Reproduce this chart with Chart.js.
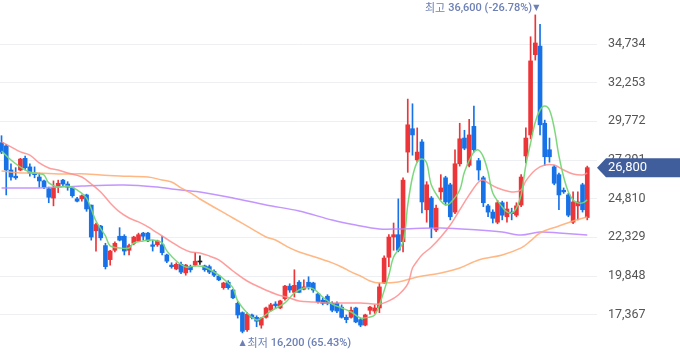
<!DOCTYPE html>
<html>
<head>
<meta charset="utf-8">
<script src="https://cdn.jsdelivr.net/npm/chart.js@4.4.0/dist/chart.umd.min.js"></script>
<style>
  html, body { margin: 0; padding: 0; background: #ffffff; }
  #wrap { width: 680px; height: 358px; position: relative; }
</style>
</head>
<body>
<div id="wrap"><canvas id="canvasChart"></canvas></div>
<script>
// daily candles, oldest first
var opens = [28400, 28200, 26650, 26250, 26650, 27400, 26850, 26450, 26200, 25950,
  25450, 24850, 25600, 26000, 25750, 25500, 24800, 24800, 25050, 24400,
  22750, 23050, 21800, 20900, 21500, 22400, 22400, 21500, 21950, 22100,
  22600, 22600, 21850, 21850, 21850, 21200, 20550, 20300, 20600, 20050,
  20450, 20550, 20750, 20500, 20450, 20150, 19850, 19100, 19450, 18950,
  18100, 17500, 16400, 17350, 17200, 16700, 17200, 17650, 18050, 17800,
  18400, 19200, 18800, 19450, 19000, 19450, 19400, 18700, 18300, 18550,
  18100, 18100, 17850, 17200, 17200, 17800, 17050, 16700, 17650, 17600,
  17800, 19400, 21050, 22350, 22500, 22050, 27800, 29300, 27300, 28450,
  24100, 24850, 22800, 25250, 26150, 25700, 23950, 27050, 28700, 26950,
  29450, 27250, 26150, 24350, 23950, 23300, 24550, 23650, 23950, 23750,
  24400, 27550, 28900, 34050, 34600, 29650, 27950, 26850, 26350, 25350,
  25050, 23300, 24350, 25700, 23600];
var highs = [28850, 28300, 27050, 26800, 27400, 27550, 27050, 26850, 26450, 26000,
  25550, 25950, 26000, 26050, 25900, 25550, 24900, 25050, 25100, 24400,
  23250, 23100, 21950, 21500, 22050, 22950, 22500, 21900, 22400, 22600,
  22650, 22650, 22150, 22150, 22400, 21250, 20700, 20700, 20750, 20600,
  20550, 21350, 21150, 20550, 20550, 20250, 19900, 19450, 19550, 19000,
  18200, 17550, 17500, 17400, 17300, 17200, 17850, 18100, 18200, 18300,
  19250, 19350, 20250, 19550, 19600, 19800, 19450, 18750, 18450, 18650,
  18200, 18200, 18000, 17350, 17850, 17850, 17150, 17400, 17900, 18000,
  19400, 21150, 22500, 23250, 24800, 26150, 31200, 30900, 29350, 28600,
  25900, 24950, 24400, 26350, 26250, 25800, 27950, 29650, 29200, 29900,
  30750, 27400, 26250, 24450, 24100, 24700, 24650, 24600, 24200, 24550,
  26350, 29350, 35200, 36600, 36000, 29850, 28700, 26950, 26450, 25500,
  25150, 25250, 25250, 25800, 26900];
var lows = [27700, 25050, 26000, 26050, 26600, 26650, 26250, 26150, 25550, 25450,
  24550, 24350, 25200, 25600, 25350, 24900, 24600, 24650, 24000, 22150,
  21450, 22150, 20300, 20550, 21400, 22100, 21200, 21200, 21850, 22050,
  22150, 22050, 21450, 21750, 21200, 20700, 20350, 20250, 20000, 19900,
  20100, 20500, 20600, 20150, 20000, 19800, 19550, 19000, 19000, 18400,
  17150, 16200, 16300, 17100, 16600, 16500, 17150, 17600, 17800, 17750,
  18300, 18800, 18500, 18800, 18950, 19000, 18800, 18100, 18000, 18000,
  17550, 17500, 17150, 16850, 17150, 16850, 16600, 16650, 17400, 17450,
  17500, 19350, 20450, 21500, 21400, 21400, 26500, 27600, 27150, 23900,
  23300, 22300, 22700, 24750, 24400, 23450, 23850, 26900, 27950, 26850,
  27800, 26000, 24300, 23650, 23250, 23200, 23450, 23300, 23450, 23650,
  24300, 27100, 28650, 33700, 28900, 26950, 27150, 25700, 24100, 25150,
  23650, 23200, 23450, 23950, 23450];
var closes = [27800, 26650, 26200, 26150, 27350, 26800, 26450, 26350, 25950, 25550,
  24900, 25500, 25800, 25750, 25550, 25000, 24650, 25000, 24150, 22350,
  23150, 22300, 20450, 21450, 21950, 22150, 21450, 21800, 22350, 22500,
  22400, 22100, 21750, 22100, 21350, 20800, 20450, 20600, 20100, 20550,
  20250, 20800, 20750, 20250, 20100, 19900, 19600, 19400, 19100, 18450,
  17350, 16300, 17400, 17200, 16950, 17150, 17800, 18000, 17950, 18250,
  19200, 18950, 19250, 18800, 19150, 19150, 18950, 18200, 18100, 18100,
  17650, 17600, 17200, 17050, 17650, 16900, 16700, 17350, 17850, 17800,
  19150, 21000, 22350, 22500, 21500, 26000, 29550, 28900, 27800, 24600,
  25700, 22950, 24200, 25500, 24600, 23650, 27050, 28650, 28050, 28900,
  27950, 26650, 24550, 23950, 23550, 24550, 23750, 24150, 23850, 24350,
  26200, 28700, 33650, 34800, 29550, 27500, 27500, 25800, 25050, 25250,
  23750, 24600, 24600, 24100, 26800];

// moving averages: [candle index, price]
var ma5 = [[0, 27870], [2, 27290], [4, 26840], [6, 26520], [8, 26400], [9, 26330], [10, 25820],
  [12, 25560], [14, 25620], [16, 25370], [18, 24850], [20, 23380], [22, 22420], [23, 21780],
  [25, 21650], [27, 21650], [28, 21970], [30, 22100], [32, 22160], [34, 21970], [35, 21460],
  [37, 20810], [39, 20430], [41, 20490], [43, 20430], [46, 19910], [48, 19400], [49, 19080],
  [50, 18250], [52, 17480], [54, 17030], [55, 17160], [57, 17600], [60, 18120], [62, 18760],
  [64, 19080], [66, 19020], [68, 18500], [70, 18050], [72, 17800], [74, 17540], [76, 17160],
  [78, 17220], [79, 17350], [80, 17990], [82, 19910], [83, 21070], [85, 22030], [86, 24410],
  [87, 26200], [88, 27160], [89, 27360], [90, 27100], [91, 25690], [93, 24660], [94, 24410],
  [95, 24540], [97, 25370], [98, 26520], [100, 27810], [101, 27930], [102, 27490], [103, 26520],
  [104, 25180], [106, 24280], [107, 23960], [108, 23890], [109, 24210], [110, 25050], [111, 26970],
  [112, 28380], [113, 29730], [114, 30500], [115, 30760], [116, 30500], [117, 29350], [118, 27550],
  [119, 26200], [120, 25240], [121, 24730], [122, 24540], [123, 24540], [124, 24730]];
var ma20 = [[0, 28450], [2, 28130], [4, 27810], [6, 27610], [8, 27100], [10, 26780], [12, 26650],
  [14, 26460], [17, 26200], [19, 25750], [21, 25240], [23, 24540], [25, 23960], [27, 23570],
  [29, 23320], [31, 23000], [33, 22610], [36, 22030], [38, 21650], [40, 21390], [42, 21330],
  [44, 21130], [46, 20880], [49, 20170], [52, 19530], [55, 19080], [58, 18700], [61, 18440],
  [63, 18250], [66, 18180], [69, 18120], [72, 18120], [76, 18120], [80, 18050], [82, 18250],
  [84, 18630], [86, 19340], [87, 20360], [88, 20810], [89, 21200], [91, 21710], [93, 22350],
  [95, 23120], [97, 24090], [99, 25050], [101, 25880], [102, 26010], [103, 25820], [105, 25500],
  [108, 25240], [110, 25370], [111, 25950], [113, 26650], [115, 26970], [117, 26970], [119, 26650],
  [121, 26400], [123, 26330], [124, 26460]];
var ma60 = [[0, 26590], [4, 26460], [8, 26460], [12, 26400], [18, 26400], [21, 26330], [25, 26270],
  [31, 26200], [34, 26010], [36, 25880], [38, 25500], [40, 25180], [42, 24790], [49, 23570],
  [53, 22870], [56, 22350], [58, 22160], [61, 21650], [63, 21390], [65, 21200], [70, 20690],
  [72, 20430], [74, 20110], [76, 19850], [78, 19530], [80, 19400], [84, 19470], [88, 19790],
  [93, 20040], [97, 20360], [101, 20880], [106, 21200], [110, 21650], [112, 22100], [114, 22610],
  [118, 23060], [121, 23380], [124, 23640]];
var ma120 = [[0, 25500], [8, 25500], [17, 25630], [26, 25690], [33, 25560], [36, 25430], [42, 25240],
  [49, 24860], [56, 24410], [63, 24020], [70, 23440], [75, 23120], [80, 22870], [84, 22870],
  [93, 22930], [101, 22800], [106, 22670], [110, 22480], [114, 22670], [118, 22610], [124, 22480]];

var yTicks = [17367, 19848, 22329, 24810, 27291, 29772, 32253, 34734];
var highText = ['최고', '36,600 (-26.78%)'];
var lowText = ['최저', '16,200 (65.43%)'];
var highIdx = 113, lowIdx = 51;

var RED = '#ec3538', BLUE = '#1772e8';

function candleColor(i){
    if (closes[i] > opens[i]) return RED;
    if (closes[i] < opens[i]) return BLUE;
    return '#222222';
}

function toPoints(arr){
    var out = [];
    for (var i = 0; i < arr.length; i++){
        out.push({x: arr[i][0], y: arr[i][1]});
    }
    return out;
}

var wicks = [], bodies = [], colors = [];
for (var i = 0; i < opens.length; i++){
    wicks.push({x: i, y: [lows[i], highs[i]]});
    bodies.push({x: i, y: [Math.min(opens[i], closes[i]), Math.max(opens[i], closes[i])]});
    colors.push(candleColor(i));
}

function fmt(v){
    return v.toLocaleString('en-US');
}

var overlay = {
    id: 'overlay',
    afterDraw: function(chart){
        var ctx = chart.ctx;
        var xs = chart.scales.x, ys = chart.scales.y;
        var area = chart.chartArea;
        ctx.save();

        // current price tag
        var last = closes[closes.length - 1];
        var py = ys.getPixelForValue(last);
        var x0 = area.right, h = 9.5;
        ctx.fillStyle = '#415e9c';
        ctx.beginPath();
        ctx.moveTo(x0, py);
        ctx.lineTo(x0 + 9, py - h);
        ctx.lineTo(chart.width, py - h);
        ctx.lineTo(chart.width, py + h);
        ctx.lineTo(x0 + 9, py + h);
        ctx.closePath();
        ctx.fill();
        ctx.fillStyle = '#ffffff';
        ctx.font = '13px Roboto, sans-serif';
        ctx.textAlign = 'left';
        ctx.textBaseline = 'middle';
        ctx.fillText(fmt(last), x0 + 11, py + 0.5);

        // high / low marks
        ctx.fillStyle = '#6d80b6';
        ctx.textBaseline = 'middle';
        var hx = xs.getPixelForValue(highIdx);
        var hy = ys.getPixelForValue(highs[highIdx]) - 7;
        ctx.textAlign = 'right';
        ctx.font = '8px "DejaVu Sans", sans-serif';
        ctx.fillText('▼', hx + 4, hy);
        var w1 = ctx.measureText('▼').width + 1;
        ctx.font = '500 11px Roboto, "Noto Sans CJK KR", sans-serif';
        ctx.fillText(highText[1], hx + 4 - w1, hy);
        var w2 = ctx.measureText(highText[1]).width + 3;
        ctx.font = '11px "Noto Sans CJK KR", sans-serif';
        ctx.fillText(highText[0], hx + 4 - w1 - w2, hy);

        var lx = xs.getPixelForValue(lowIdx) - 3;
        var ly = ys.getPixelForValue(lows[lowIdx]) + 10;
        ctx.textAlign = 'left';
        ctx.font = '8px "DejaVu Sans", sans-serif';
        ctx.fillText('▲', lx, ly);
        var v1 = ctx.measureText('▲').width + 2;
        ctx.font = '11px "Noto Sans CJK KR", sans-serif';
        ctx.fillText(lowText[0], lx + v1, ly);
        var v2 = ctx.measureText(lowText[0]).width + 3;
        ctx.font = '500 11px Roboto, "Noto Sans CJK KR", sans-serif';
        ctx.fillText(lowText[1], lx + v1 + v2, ly);
        ctx.restore();
    }
};

function lineSet(label, arr, color){
    return {
        type: 'line',
        label: label,
        data: toPoints(arr),
        borderColor: color,
        borderWidth: 1.5,
        pointRadius: 0,
        tension: 0.35,
        fill: false,
        order: 0
    };
}

var canvas_ref = document.getElementById('canvasChart');
var chart = new Chart(canvas_ref, {
    type: 'bar',
    data: {
        datasets: [
            lineSet('MA5', ma5, 'rgba(118, 214, 118, 0.95)'),
            lineSet('MA20', ma20, 'rgba(255, 140, 140, 0.85)'),
            lineSet('MA60', ma60, 'rgba(255, 170, 110, 0.85)'),
            lineSet('MA120', ma120, 'rgba(185, 130, 255, 0.85)'),
            {
                label: 'body',
                data: bodies,
                backgroundColor: colors,
                barThickness: 4,
                minBarLength: 1,
                grouped: false,
                order: 1
            },
            {
                label: 'wick',
                data: wicks,
                backgroundColor: colors,
                barThickness: 1,
                grouped: false,
                order: 2
            }
        ]
    },
    options: {
        responsive: true,
        maintainAspectRatio: false,
        animation: false,
        layout: {padding: 0, autoPadding: false},
        plugins: {
            legend: {display: false},
            tooltip: {enabled: false}
        },
        scales: {
            x: {
                type: 'linear',
                display: false,
                min: -0.32,
                max: 126.06,
                offset: false
            },
            y: {
                position: 'right',
                min: 14589,
                max: 37557,
                afterBuildTicks: function(axis){
                    axis.ticks = yTicks.map(function(v){ return {value: v}; });
                },
                afterFit: function(axis){
                    axis.width = 83;
                    axis.paddingTop = 0;
                    axis.paddingBottom = 0;
                },
                border: {display: false},
                grid: {color: '#eeeff2', drawTicks: false, lineWidth: 1},
                ticks: {
                    padding: 11,
                    color: '#555555',
                    font: {family: 'Roboto, sans-serif', size: 12.5},
                    callback: function(v){ return fmt(v); }
                }
            }
        }
    },
    plugins: [overlay]
});
</script>
</body>
</html>
